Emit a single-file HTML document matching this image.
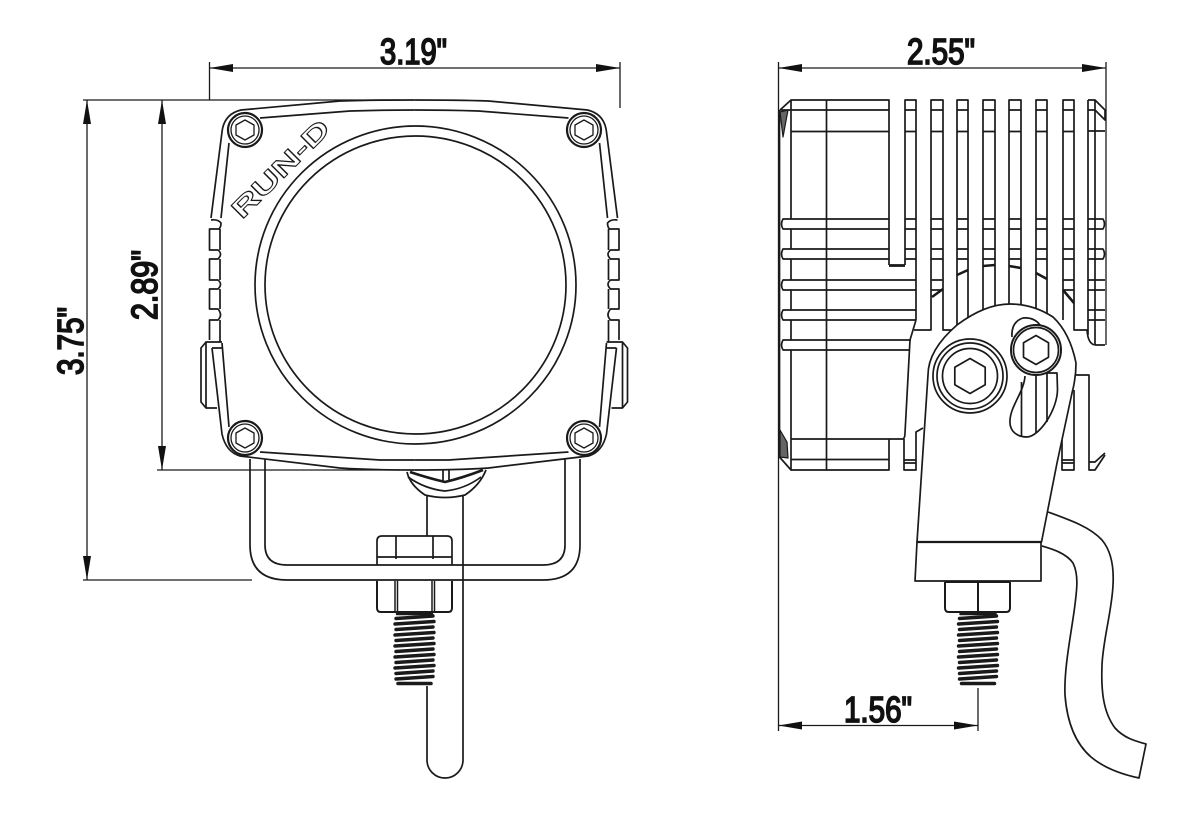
<!DOCTYPE html>
<html><head><meta charset="utf-8"><style>
html,body{margin:0;padding:0;background:#fff}
svg{display:block}
text{font-family:"Liberation Sans",sans-serif;font-weight:normal;font-size:36px;fill:#111}
.d{stroke:#111;stroke-width:1.800;stroke-linejoin:miter}
</style></head><body>
<svg width="1200" height="814" viewBox="0 0 1200 814" xmlns="http://www.w3.org/2000/svg" fill="none" stroke="#1a1a1a" stroke-width="1.7" stroke-linejoin="round">
<defs>
<g id="thr" stroke-width="3.400" stroke-linecap="round">
<path d="M2 1.500H37" stroke-width="2.500"/>
<path d="M1 6L38 3.500M0 11.500L39 9M1 17L38 14.500M0 22.500L39 20M1 28L38 25.500M0 33.500L39 31M1 39L38 36.500M0 44.500L39 42M1 50L38 47.500M0 55.500L39 53M1 61L38 58.500M1 66.500L38 64"/>
<path d="M3 71H36" stroke-width="3.500"/>
</g>
<g id="half">
<path d="M211 218L222 132Q224 114 241 110L340 101Q370 100 414.250 100"/>
<path d="M221 218L229 143M260 118L350 111Q380 110 414.250 110"/>
<path d="M212 348L222 434Q226 452 240 456L340 468Q370 470 414.250 470"/>
<path d="M222 343L229 427M260 452L380 460H414.250"/>
<path d="M211 220Q218 219 221 223Q221 227 219 229H209.500V250H218Q223 254 218 259H209.500V280H218Q223 284 218 289H209.500V309H218Q223 315 218 320H209.500V340"/>
<path d="M220 229V250M220 259V280M220 289V309M220 320V342"/>
<path d="M222 342H206L201 348V402L206 408H217M212 348H222M206 342V408"/>
</g>
<g id="bolt">
<circle r="17" fill="#fff" stroke-width="2.200"/>
<circle r="14" stroke-width="1.300"/>
<path d="M0-10L9 -5V5L0 10L-9 5V-5Z" stroke-width="1.300"/>
</g>
</defs>

<!-- dimensions -->
<g stroke-width="1.300">
<path d="M209.500 62V100M620 62V108M209.500 68H620"/>
<path d="M83 100H400M83 580H252M87 100V580M157 470H400M162 100V470"/>
<path d="M778.500 62V731M1106 62V345M778.500 68H1106"/>
<path d="M778.500 725.500H978M978 688V731"/>
</g>
<g fill="#111" stroke="none">
<path d="M209.500 68L233 64V72ZM620 68L596 64V72Z"/>
<path d="M87 100L83 124H91ZM87 580L83 556H91Z"/>
<path d="M162 100L158 124H166ZM162 470L158 446H166Z"/>
<path d="M778.500 68L802 64V72ZM1106 68L1082 64V72Z"/>
<path d="M778.500 725.500L802 721.500V729.500ZM978 725.500L954 721.500V729.500Z"/>
</g>
<text class="d" x="380" y="64" textLength="67" lengthAdjust="spacingAndGlyphs">3.19"</text>
<text class="d" x="907" y="64" textLength="68" lengthAdjust="spacingAndGlyphs">2.55"</text>
<text class="d" x="844" y="722" textLength="68" lengthAdjust="spacingAndGlyphs">1.56"</text>
<text class="d" transform="translate(83 375) rotate(-90)" textLength="68" lengthAdjust="spacingAndGlyphs">3.75"</text>
<text class="d" transform="translate(157 320) rotate(-90)" textLength="70" lengthAdjust="spacingAndGlyphs">2.89"</text>

<!-- front: cable and bracket -->
<path d="M427 496V536M463 496V760A17.500 17.500 0 0 1 427 760V686"/>
<path d="M250 459V545Q250 580 287 580H543Q580 580 580 545V459"/>
<path d="M265 459V545Q265 565 287 565H543Q565 565 565 545V459"/>
<path d="M377 565V541Q377 536 382 536H447Q452 536 452 541V565M377 557H452M396 536V559M433 536V559"/>
<path d="M377 581V608Q377 612 381 612H448Q452 612 452 608V581" stroke-width="2"/>
<path d="M395 581V612M397.500 581V612M432 581V612M434.500 581V612" stroke-width="1.500"/>
<use href="#thr" transform="translate(395 612.500)"/>
<!-- grommet -->
<path d="M407 472Q410 485 425 495Q445 500 465 495Q480 485 486 470"/>
<path d="M408 477Q425 489 445 491Q465 489 481 477"/>
<path d="M410 472Q428 478 445 482Q462 478 483 470" stroke-width="2.600"/>
<path d="M443 470V481M449 470V481"/>

<!-- front: housing -->
<use href="#half"/>
<use href="#half" transform="matrix(-1 0 0 1 828.500 0)"/>
<ellipse cx="415.500" cy="285" rx="160.500" ry="159"/>
<ellipse cx="415.500" cy="285" rx="150.500" ry="149"/>
<use href="#bolt" transform="translate(245 130)"/>
<use href="#bolt" transform="translate(584 130)"/>
<use href="#bolt" transform="translate(245 438)"/>
<use href="#bolt" transform="translate(584 438)"/>
<text transform="translate(242 220) rotate(-45)" style="font-size:26px;font-weight:bold;fill:#fff;stroke:#1a1a1a;stroke-width:1" textLength="127" lengthAdjust="spacingAndGlyphs">RUN-D</text>

<!-- side: body -->
<path d="M780 110L791 100H889V265M905 265V100H916V320"/>
<path d="M889 265.500H905" stroke-width="2.800"/>
<path d="M780 110H889M791 131.500H889M779.500 110V457L791 470H889V439"/>
<path d="M791 100V219M791 229V249M791 259V280M791 290V310M791 320V340M791 350V470"/>
<path d="M826.500 100V470"/>
<path d="M889 219H783Q780 224 783 229H889M889 249H783Q780 254 783 259H889"/>
<path d="M916 280H783Q780 285 783 290H916M916 310H783Q780 315 783 320H916M911 340H783Q780 345 783 350H910"/>
<path d="M791 439H903Q905 438 905 433L910 340L916 320"/>
<path d="M791 459.500H889"/>
<path d="M780 112L788 110L783 137Z" fill="#666" stroke-width="1.200"/>
<path d="M780 430L787 442L788 458L780 457Z" fill="#666" stroke-width="1.200"/>
<path d="M904 439V470H916V460H904M916 460V432L923 428M904 463H916"/>
<path d="M914 330H931V100H943V330H952M957 325V100H968V330M983 320V100H995V320M1009 320V100H1021V320M1036 320V100H1047V320M1063 320V100H1074V330H1087Q1088 345 1096 345H1105"/>
<path d="M1088 100V335M1088 100H1095L1105 110V120L1095 110H1088M1095 100V345"/>
<g>
<path d="M905 110H916M905 131.500H916M905 219H916M905 229H916M905 249H916M905 259H916"/>
<path d="M931 110H943M931 131.500H943M931 219H943M931 229H943M931 249H943M931 259H943M931 280H943M931 290H943"/>
<path d="M957 110H968M957 131.500H968M957 219H968M957 229H968M957 249H968M957 259H968"/>
<path d="M983 110H995M983 131.500H995M983 219H995M983 229H995M983 249H995M983 259H995"/>
<path d="M1009 110H1021M1009 131.500H1021M1009 219H1021M1009 229H1021M1009 249H1021M1009 259H1021"/>
<path d="M1036 110H1047M1036 131.500H1047M1036 219H1047M1036 229H1047M1036 249H1047M1036 259H1047"/>
<path d="M1063 110H1074M1063 131.500H1074M1063 219H1074M1063 229H1074M1063 249H1074M1063 259H1074M1063 280H1074M1063 290H1074"/>
<path d="M1088 131H1105M1088 219H1103Q1106 224 1103 229H1088M1088 249H1103Q1106 254 1103 259H1088M1088 280H1105M1088 290H1105M1088 310H1105M1088 320H1105"/>
</g>
<g stroke-width="2.600">
<path d="M932 297L943 289M957 275L968 270M983 266L995 265M1009 266L1021 268M1036 273L1047 279M1063 290L1074 303"/>
</g>
<path d="M1062 440V470H1074V390M1062 460H1074M1062 463H1074"/>
<path d="M1070 375H1089V470H1095L1105 455M1089 462H1095L1105 453"/>

<!-- side: cable -->
<path d="M1048 512C1070 520 1090 527 1102 540C1112 552 1114 568 1113 585C1112 610 1103 640 1102 665C1101 690 1103 712 1115 728C1124 738 1135 741 1146 744L1139 778C1120 774 1103 767 1091 757C1075 743 1067 722 1065 695C1064 670 1070 640 1074 612C1077 590 1079 575 1073 563C1066 553 1052 549 1042 546"/>

<!-- side: lever -->
<path d="M917 542L928 375Q928 350 957 325Q985 304 1010 304Q1033 304 1053 317Q1070 333 1076 363Q1076 378 1072 393L1057 463L1041.500 542Z" fill="#fff"/>
<path d="M917 542L915 581H1041V542Z" fill="#fff"/>
<path d="M917 542H1041" stroke-width="2.200"/>
<!-- slot -->
<path d="M1012 337Q1011 322 1023 318Q1034 317 1040 325"/>
<path d="M1025 376C1024 392 1011 405 1010 420C1009 432 1018 437 1027 437C1040 436 1057 410 1057.500 390L1057 373H1047"/>
<path d="M1021.500 382V436M1036 376V433M1047 373V422"/>
<g transform="translate(970 376)">
<circle r="37" fill="#fff"/>
<circle r="33"/>
<circle r="27.500"/>
<path d="M0-17.500L15.200-8.750V8.750L0 17.500L-15.200 8.750V-8.750Z"/>
</g>
<g transform="translate(1036 350)">
<circle r="25" fill="#fff" stroke-width="2"/>
<circle r="22.500"/>
<path d="M0-14.500L12.500-7.250V7.250L0 14.500L-12.500 7.250V-7.250Z"/>
</g>
<!-- side: nut -->
<path d="M945 582V608Q945 612 949 612H1006Q1010 612 1010 608V582" stroke-width="2"/>
<path d="M945 582H1010M978 582V612" stroke-width="2"/>
<use href="#thr" transform="translate(958.500 612.500)"/>
</svg>
</body></html>
